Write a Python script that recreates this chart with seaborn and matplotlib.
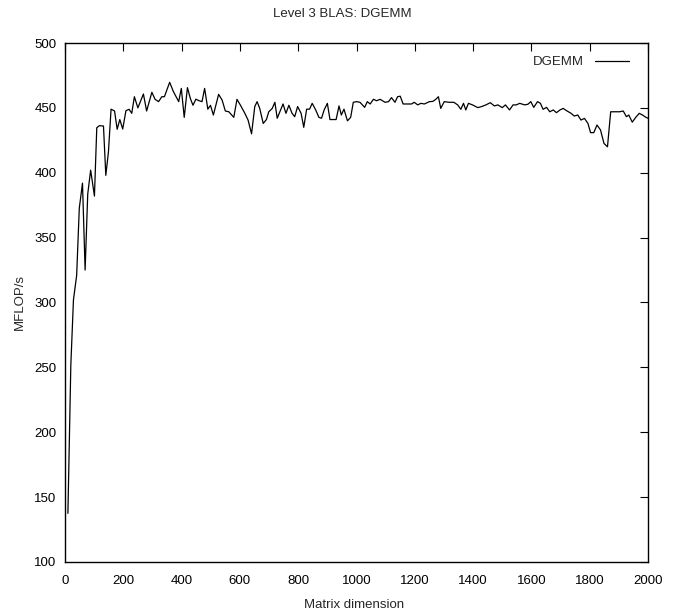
import matplotlib
matplotlib.use("Agg")
import matplotlib.pyplot as plt
import seaborn as sns
import pandas as pd

matrix_dim = [10, 20, 29, 40, 49, 60, 69, 78, 88, 101, 109, 118, 132, 140, 149, 158, 170, 179, 188, 198,
              209, 220, 229, 238, 250, 269, 280, 298, 309, 321, 332, 341, 359, 372, 390, 399, 409, 420, 430, 439,
              449, 460, 470, 479, 490, 499, 509, 527, 539, 550, 562, 579, 590, 602, 617, 628, 640, 651, 659, 668,
              680, 691, 699, 711, 720, 728, 737, 748, 758, 768, 779, 788, 798, 810, 819, 829, 839, 848, 860, 871,
              880, 889, 900, 909, 920, 930, 940, 948, 957, 969, 980, 989, 1000, 1012, 1028, 1037, 1047, 1058, 1069, 1081,
              1098, 1110, 1120, 1132, 1141, 1150, 1160, 1175, 1189, 1198, 1210, 1221, 1233, 1250, 1262, 1272, 1281, 1289, 1301, 1318,
              1334, 1347, 1358, 1367, 1375, 1384, 1398, 1416, 1429, 1444, 1459, 1473, 1485, 1500, 1511, 1525, 1537, 1548, 1560, 1577,
              1588, 1598, 1608, 1621, 1631, 1640, 1652, 1663, 1675, 1686, 1698, 1709, 1721, 1736, 1747, 1759, 1770, 1782, 1794, 1803,
              1814, 1825, 1837, 1849, 1861, 1872, 1886, 1903, 1915, 1926, 1934, 1946, 1958, 1970, 1981, 1993, 2000]
mflops = [137.5, 251.8, 302, 321, 372.6, 392, 325, 383.6, 402, 382, 434.7, 436.3, 436, 398, 416, 449, 447.6, 433.5, 441, 433.7,
          447.8, 448.9, 445.8, 458.6, 450, 460.7, 447.6, 462, 456.6, 454.8, 458.6, 458.6, 469.7, 462.5, 454.8, 465, 442.7, 465.6, 457.3, 452,
          456.7, 455.5, 454.8, 465, 449, 452, 444.5, 460.4, 456, 447.6, 447, 442.7, 456.6, 452, 445.8, 440.6, 430, 451, 454.8, 449.6,
          438, 441, 447, 449.6, 454.3, 442, 447, 453, 445.8, 452, 445.8, 443.2, 451, 445.8, 435, 449, 449, 453.5, 448.4, 442.7,
          442, 448.4, 453.5, 441, 441, 441, 451.5, 444.5, 449, 440, 442.7, 454.3, 454.8, 454.3, 450.4, 454.8, 453, 456.6, 455.5, 456.6,
          454.3, 454.8, 457.9, 454.3, 458.6, 459, 453, 453, 453, 454.3, 452.3, 453.5, 453, 454.8, 455, 456.6, 458.6, 449.6, 454.8, 454.3,
          454.3, 452.3, 448.9, 453.5, 448.4, 453.5, 452.3, 450.2, 451, 452.3, 454, 451.5, 452.3, 450.2, 452.3, 448.4, 452.3, 452.3, 453.5, 452.3,
          452.8, 454.8, 450.4, 454.8, 453.5, 448.9, 450.4, 447, 448.4, 446.3, 448.4, 449.6, 447.8, 445.8, 443.7, 444.5, 440.6, 441.9, 438, 430.9,
          430.9, 436.8, 433, 422.6, 420, 447, 447, 447, 447.6, 443.2, 444.5, 439, 442.7, 445.8, 444.5, 442.7, 442]

x_ticks = [0, 200, 400, 600, 800, 1000, 1200, 1400, 1600, 1800, 2000]
y_ticks = [100, 150, 200, 250, 300, 350, 400, 450, 500]

sns.set_theme(style="white")
fam = ['Liberation Sans', 'DejaVu Sans']
plt.rcParams['font.family'] = fam

df = pd.DataFrame({"Matrix dimension": matrix_dim, "MFLOP/s": mflops, "series": "DGEMM"})

fig = plt.figure(figsize=(6.76, 6.15), dpi=100)
ax = fig.add_axes([65/676, 1 - 562/615, (648 - 65)/676, (562 - 43)/615])
sns.lineplot(data=df, x="Matrix dimension", y="MFLOP/s", hue="series", palette=["black"],
             linewidth=0.9, ax=ax, legend=True)

ax.set_xlim(0, 2000)
ax.set_ylim(100, 500)
ax.set_xticks(x_ticks)
ax.set_yticks(y_ticks)
ax.tick_params(direction="in", length=6, width=0.8, top=True, right=True, labelsize=9.5,
               colors="black")
ax.tick_params(axis="x", pad=9)
ax.tick_params(axis="y", pad=6)
for s in ax.spines.values():
    s.set_color("black")
    s.set_linewidth(1.0)
ax.set_xlabel("Matrix dimension", fontsize=9.5)
ax.set_ylabel("MFLOP/s", fontsize=9.5)
ax.xaxis.set_label_coords((354 - 65) / 583, -(605 - 562) / 519)
ax.yaxis.set_label_coords((20 - 65) / 583, 0.5)
ax.xaxis.label.set_va("center")
ax.yaxis.label.set_va("center")
fig.text(342 / 676, 1 - 14/615, "Level 3 BLAS: DGEMM", ha="center", va="center", fontsize=9.5)

leg = ax.legend(loc="upper right", frameon=False, markerfirst=False, fontsize=9.5,
                handlelength=2.6, borderaxespad=0.6, bbox_to_anchor=(0.99, 1.0))
for t in leg.get_texts():
    t.set_text("DGEMM")

fig.savefig("out.png", dpi=100)
